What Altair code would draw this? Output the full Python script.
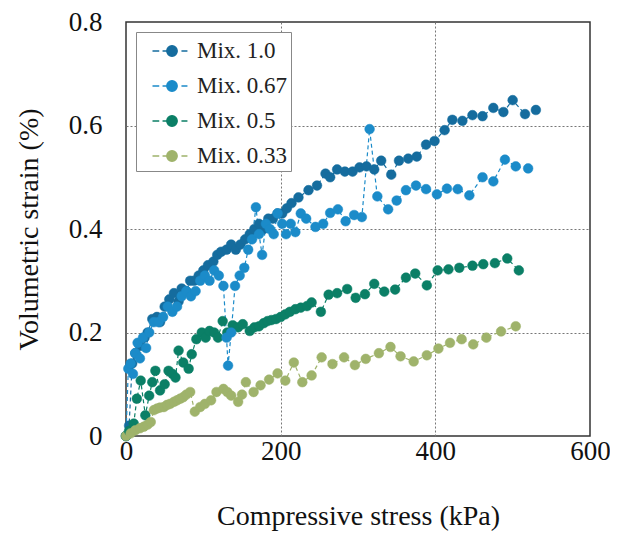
import altair as alt
import pandas as pd

series = ["Mix. 1.0", "Mix. 0.67", "Mix. 0.5", "Mix. 0.33"]
colors = ["#156c9e", "#1b8bc9", "#0b7f66", "#9fb36b"]

x_10 = [0, 4, 8, 12, 18, 24, 28, 34, 40, 44, 50, 56, 62, 68, 72, 78, 83, 88, 94, 100,
        106, 113, 118, 123, 130, 136, 142, 148, 154, 160, 166, 172, 178, 184, 190, 196, 202, 208, 214,
        223, 236, 247, 258, 264, 273, 283, 293, 302, 311, 321, 330, 343, 353, 365, 376, 388, 399, 412, 422,
        435, 448, 461, 475, 488, 500, 516, 530]
y_10 = [0, 0.02, 0.14, 0.16, 0.174, 0.19, 0.20, 0.226, 0.23, 0.22, 0.25, 0.264, 0.276, 0.26, 0.285, 0.28, 0.30, 0.30, 0.31, 0.32,
        0.33, 0.337, 0.35, 0.356, 0.36, 0.37, 0.36, 0.37, 0.38, 0.39, 0.40, 0.41, 0.40, 0.42, 0.42, 0.43, 0.43, 0.44, 0.45,
        0.461, 0.475, 0.484, 0.507, 0.500, 0.515, 0.511, 0.511, 0.519, 0.521, 0.515, 0.532, 0.505, 0.532, 0.536, 0.540, 0.563, 0.570, 0.591, 0.611,
        0.609, 0.620, 0.618, 0.634, 0.626, 0.649, 0.622, 0.630]

x_067 = [0, 3, 6, 9, 12, 15, 18, 22, 26, 30, 36, 42, 48, 54, 60, 66, 72, 78, 84, 90,
         96, 102, 108, 114, 120, 126, 130, 132, 136, 141, 147, 153, 158, 163, 168, 172, 176, 181, 186, 191,
         196, 202, 207, 213, 219, 226, 233, 245, 255, 264, 274, 284, 295, 305, 315, 325, 339, 350, 362, 375,
         388, 402, 415, 429, 444, 461, 475, 490, 504, 520]
y_067 = [0, 0.13, 0.14, 0.12, 0.16, 0.18, 0.15, 0.19, 0.17, 0.20, 0.22, 0.22, 0.23, 0.25, 0.24, 0.25, 0.27, 0.28, 0.27, 0.28,
         0.30, 0.31, 0.30, 0.32, 0.31, 0.29, 0.19, 0.136, 0.20, 0.29, 0.31, 0.325, 0.36, 0.38, 0.442, 0.39, 0.35, 0.41, 0.40, 0.39,
         0.43, 0.41, 0.39, 0.41, 0.394, 0.43, 0.42, 0.404, 0.41, 0.431, 0.438, 0.415, 0.427, 0.423, 0.593, 0.463, 0.438, 0.455, 0.475, 0.484,
         0.477, 0.467, 0.478, 0.477, 0.465, 0.50, 0.492, 0.534, 0.521, 0.517]

x_05 = [0, 4, 10, 14, 19, 25, 30, 34, 38, 44, 50, 55, 60, 64, 68, 74, 81, 85, 91, 98,
        103, 108, 114, 119, 125, 131, 138, 145, 151, 160, 166, 172, 178, 183, 188, 194, 200, 206, 212, 219,
        226, 234, 240, 252, 262, 273, 286, 297, 309, 321, 334, 348, 362, 374, 389, 403, 417, 431, 448, 462,
        477, 493, 508]
y_05 = [0, 0.01, 0.024, 0.072, 0.107, 0.04, 0.078, 0.104, 0.126, 0.088, 0.10, 0.126, 0.12, 0.113, 0.165, 0.142, 0.13, 0.158, 0.187, 0.20,
        0.19, 0.203, 0.2, 0.19, 0.222, 0.20, 0.214, 0.21, 0.216, 0.203, 0.21, 0.212, 0.218, 0.222, 0.224, 0.226, 0.23, 0.235, 0.24, 0.245,
        0.248, 0.251, 0.258, 0.24, 0.273, 0.276, 0.284, 0.267, 0.274, 0.294, 0.279, 0.283, 0.306, 0.314, 0.291, 0.32, 0.322, 0.325, 0.329, 0.332,
        0.334, 0.343, 0.32]

x_033 = [0, 6, 12, 18, 23, 28, 32, 36, 40, 44, 49, 53, 57, 62, 66, 70, 74, 78, 83, 89,
         96, 102, 110, 117, 126, 131, 136, 145, 150, 155, 165, 174, 185, 196, 206, 217, 228, 240, 253, 267,
         282, 296, 310, 327, 342, 355, 372, 389, 404, 419, 434, 449, 466, 485, 504]
y_033 = [0, 0.005, 0.011, 0.015, 0.018, 0.022, 0.027, 0.05, 0.053, 0.055, 0.056, 0.06, 0.062, 0.066, 0.069, 0.072, 0.075, 0.08, 0.085, 0.047,
         0.056, 0.062, 0.069, 0.085, 0.091, 0.085, 0.078, 0.066, 0.08, 0.104, 0.085, 0.098, 0.109, 0.121, 0.107, 0.142, 0.104, 0.117, 0.152, 0.139,
         0.152, 0.137, 0.149, 0.16, 0.172, 0.154, 0.144, 0.156, 0.169, 0.18, 0.187, 0.177, 0.19, 0.202, 0.212]

x_ticks = [0, 200, 400, 600]
y_ticks = [0, 0.2, 0.4, 0.6, 0.8]

rows = []
for name, xs, ys in zip(series, [x_10, x_067, x_05, x_033], [y_10, y_067, y_05, y_033]):
    for i, (a, b) in enumerate(zip(xs, ys)):
        rows.append({"Mix": name, "stress": a, "strain": b, "i": i})
df = pd.DataFrame(rows)

font = "Liberation Serif"
sc = alt.Scale(domain=series, range=colors)
sym = "M-1.3,0H-0.85M-0.63,0H-0.33M0.63,0H1.03M0.35,0A0.35,0.35,0,1,1,-0.35,0A0.35,0.35,0,1,1,0.35,0Z"
leg = alt.Legend(title=None, orient="none", legendX=10, legendY=10, symbolType=sym,
                 symbolSize=900, symbolStrokeWidth=1.3, labelFont=font, labelFontSize=23,
                 labelColor="#222", padding=3, rowPadding=7, symbolOffset=17, labelOffset=9,
                 strokeColor="#888", fillColor="white")

grid_x = {"condition": {"test": "datum.value === 0 || datum.value === 600", "value": 0}, "value": 1}
grid_y = {"condition": {"test": "datum.value === 0 || datum.value === 0.8", "value": 0}, "value": 1}

x = alt.X("stress:Q", scale=alt.Scale(domain=[0, 600], nice=False),
          axis=alt.Axis(values=x_ticks, format="d", title="Compressive stress (kPa)",
                        labelFlush=False, labelPadding=2, titlePadding=38, gridOpacity=grid_x))
y = alt.Y("strain:Q", scale=alt.Scale(domain=[0, 0.8], nice=False),
          axis=alt.Axis(values=y_ticks, title="Volumetric strain (%)",
                        labelExpr="datum.value == 0 ? '0' : format(datum.value, '.1f')",
                        labelFlush=False, labelPadding=24, titlePadding=25, gridOpacity=grid_y))

base = alt.Chart(df).encode(x=x, y=y, order="i:Q")
lines = base.mark_line(strokeDash=[4, 3], strokeWidth=1.2).encode(
    stroke=alt.Stroke("Mix:N", scale=sc, legend=leg))
points = base.mark_point(filled=True, size=95, opacity=1, strokeWidth=0.5).encode(
    fill=alt.Fill("Mix:N", scale=sc, legend=leg),
    stroke=alt.Stroke("Mix:N", scale=sc, legend=leg))

chart = alt.layer(lines, points).properties(
    width=464, height=414,
    autosize=alt.AutoSizeParams(type="none"),
    padding={"left": 118, "top": 14, "right": 20, "bottom": 96},
).configure_view(stroke="#333", strokeWidth=1.5).configure_axis(
    domain=False, ticks=False, grid=True, gridColor="#777", gridDash=[2, 2], gridWidth=1,
    labelFont=font, labelFontSize=27, labelColor="#111",
    titleFont=font, titleFontSize=28, titleFontWeight="normal", titleColor="#111",
)

chart.save("out.html", embed_options={"renderer": "svg", "actions": False})
